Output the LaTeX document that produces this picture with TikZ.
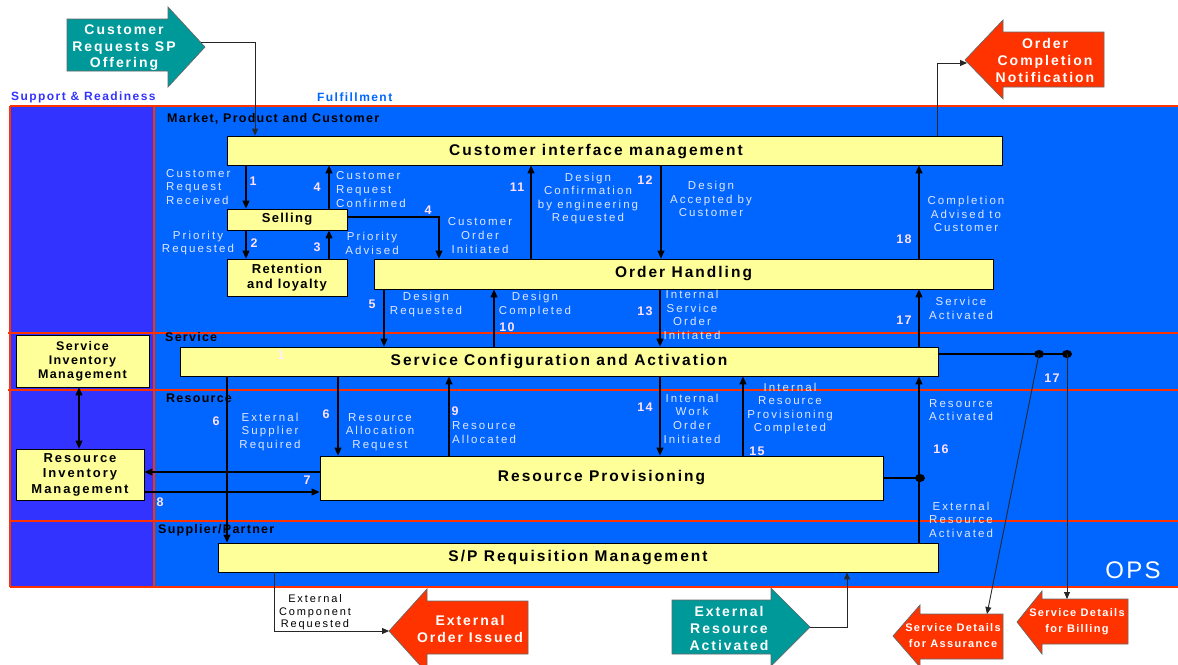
\documentclass[tikz,border=0pt]{standalone}
\usepackage{fontspec}
\setmainfont{Liberation Sans}
\newfontfamily\fLab[LetterSpace=18]{Liberation Sans}
\newfontfamily\fBox[LetterSpace=13]{Liberation Sans}
\newfontfamily\fMid[LetterSpace=10]{Liberation Sans}
\newfontfamily\fSim[LetterSpace=11]{Liberation Sans}
\newfontfamily\fRim[LetterSpace=15]{Liberation Sans}
\newfontfamily\fArr[LetterSpace=14]{Liberation Sans}
\newfontfamily\fSd[LetterSpace=12]{Liberation Sans}
\newfontfamily\fEcr[LetterSpace=17]{Liberation Sans}
\usetikzlibrary{arrows.meta}
\definecolor{leftblue}{RGB}{51,51,255}
\definecolor{mainblue}{RGB}{0,102,255}
\definecolor{redline}{RGB}{255,51,0}
\definecolor{boxyellow}{RGB}{255,255,153}
\definecolor{tealarrow}{RGB}{0,153,153}
\definecolor{redarrow}{RGB}{255,51,0}
\definecolor{labcol}{RGB}{225,230,255}
\definecolor{numcol}{RGB}{255,225,255}
\definecolor{faintcol}{RGB}{255,238,255}
\tikzset{
 box/.style={draw=black, line width=0.8pt, fill=boxyellow, inner sep=0pt, anchor=center},
 boxtxt/.style={font=\fBox\bfseries\fontsize{15.5}{18}\selectfont, inner sep=0pt, text=black},
 smallbox/.style={font=\fMid\bfseries\fontsize{13}{15}\selectfont, align=center},
 simtxt/.style={font=\fSim\bfseries\fontsize{12.5}{14}\selectfont, align=center},
 rimtxt/.style={font=\fRim\bfseries\fontsize{13}{15.5}\selectfont, align=center},
 lab/.style={text=labcol, font=\fLab\fontsize{11.5}{13.6}\selectfont, align=center, inner sep=0pt},
 labl/.style={lab, align=left, anchor=west},
 num/.style={text=numcol, font=\fMid\bfseries\fontsize{12.5}{14}\selectfont, inner sep=0pt},
 zone/.style={font=\fMid\bfseries\fontsize{12.5}{14}\selectfont, inner sep=0pt, anchor=west},
 conn/.style={draw=black, line width=1.1pt, -{Triangle[width=7pt,length=8pt]}},
 biconn/.style={draw=black, line width=1.1pt, {Triangle[width=7pt,length=8pt]}-{Triangle[width=7pt,length=8pt]}},
 plainconn/.style={draw=black, line width=1.1pt},
 thinconn/.style={draw=black!85, line width=0.9pt, -{Triangle[width=6pt,length=7pt]}},
 arrowshape/.style={draw=black!60, line width=0.7pt},
 arrtxt/.style={text=white, font=\fArr\bfseries\fontsize{14}{16.5}\selectfont, align=center, inner sep=0pt},
 sdtxt/.style={text=white, font=\fSd\bfseries\fontsize{11}{16}\selectfont, align=center, inner sep=0pt},
 redln/.style={draw=redline, line width=1.1pt},
}
\begin{document}
\begin{tikzpicture}[x=1pt,y=-1pt]
\clip (0,0) rectangle (1178,664);
\fill[white] (0,0) rectangle (1178,664);
% backgrounds
\fill[leftblue] (10,106) rectangle (154,587);
\fill[mainblue] (154,106) rectangle (1178,587);
\draw[redln] (10,106) -- (1178,106);
\draw[redln] (10,587) -- (1178,587);
\draw[redln] (10,106) -- (10,587);
\draw[redln] (154,106) -- (154,587);
\draw[redln] (8,333) -- (1178,333);
\draw[redln] (8,390) -- (1178,390);
\draw[redln] (10,521) -- (1178,521);

% header labels
\node[zone, text=leftblue, font=\fSd\bfseries\fontsize{12}{14}\selectfont] (sr) at (11,97.5) {Support \& Readiness};
\node[zone, text=mainblue, font=\fSd\bfseries\fontsize{12}{14}\selectfont] (ful) at (317,97.5) {Fulfillment};
\node[zone] (zmpc) at (167,118.5) {Market, Product and Customer};
\node[zone] (zsrv) at (165,337.5) {Service};
\node[zone] (zres) at (166,398.5) {Resource};
\node[zone] (zsp) at (158,530.5) {Supplier/Partner};
\node[text=white, font=\fMid\fontsize{24}{26}\selectfont, inner sep=0pt] (ops) at (1133,570) {OPS};

% boxes
\node[box, minimum width=775, minimum height=29] (cim) at (614.5,150.5) {};
\node[boxtxt] (cimt) at (596,151.5) {Customer interface management};
\node[box, smallbox, minimum width=120, minimum height=21] (selling) at (287,219.5) {Selling};
\node[box, smallbox, minimum width=120, minimum height=37] (retention) at (287,277.5) {Retention\\and loyalty};
\node[box, boxtxt, minimum width=619, minimum height=30] (oh) at (683.5,274) {Order Handling};
\node[box, boxtxt, minimum width=758, minimum height=29] (sca) at (559,361.5) {Service Configuration and Activation};
\node[box, simtxt, minimum width=133, minimum height=52] (sim) at (82.5,361) {Service\\Inventory\\Management};
\node[box, rimtxt, minimum width=128, minimum height=51] (rim) at (80,474.5) {Resource\\Inventory\\Management};
\node[box, boxtxt, minimum width=563, minimum height=44] (rp) at (601.5,478) {Resource Provisioning};
\node[box, boxtxt, minimum width=720, minimum height=29] (sp) at (578,557.5) {S/P Requisition Management};
\node[text=faintcol, font=\fMid\bfseries\fontsize{12.5}{14}\selectfont, inner sep=0pt] (faint1) at (281,355) {1};

% external arrows
\filldraw[arrowshape, fill=tealarrow] (67,19) -- (168,19) -- (168,7) -- (205,47) -- (168,87) -- (168,71) -- (67,71) -- cycle;
\node[arrtxt] (crsp) at (124,48) {Customer\\Requests SP\\Offering};
\coordinate (crspout) at (201,42);
\filldraw[arrowshape, fill=redarrow] (965,60) -- (1003,20) -- (1003,32) -- (1104,32) -- (1104,87) -- (1003,87) -- (1003,99) -- cycle;
\node[arrtxt, font=\fArr\bfseries\fontsize{14}{17}\selectfont] (ocn) at (1045,60) {Order\\Completion\\Notification};
\coordinate (ocnin) at (967,63);
\filldraw[arrowshape, fill=redarrow] (389,631) -- (427,589) -- (427,601) -- (528,601) -- (528,654) -- (427,654) -- (427,673) -- cycle;
\node[arrtxt, font=\fArr\bfseries\fontsize{14}{17}\selectfont] (eoi) at (470,628.5) {External\\Order Issued};
\coordinate (eoiin) at (389,631);
\filldraw[arrowshape, fill=tealarrow] (672,600) -- (771,600) -- (771,588) -- (810,627) -- (771,666) -- (771,654) -- (672,654) -- cycle;
\node[arrtxt, font=\fArr\bfseries\fontsize{14}{17}\selectfont] (era) at (729,628) {External\\Resource\\Activated};
\coordinate (eraout) at (810,627);
\filldraw[arrowshape, fill=redarrow] (893,636) -- (920,605) -- (920,614) -- (1003,614) -- (1003,659) -- (920,659) -- (920,667) -- cycle;
\node[sdtxt] (sda) at (953,636) {Service Details\\for Assurance};
\coordinate (sdain) at (987,614);
\filldraw[arrowshape, fill=redarrow] (1017,622) -- (1042,591) -- (1042,599) -- (1128,599) -- (1128,644) -- (1042,644) -- (1042,654) -- cycle;
\node[sdtxt] (sdb) at (1077,622) {Service Details\\for Billing};
\coordinate (sdbin) at (1067,599);

% connectors
\draw[conn] (cim.south -| 246,0) -- (selling.north -| 246,0);
\draw[conn] (selling.north -| 329,0) -- (cim.south -| 329,0);
\draw[conn] (selling.south -| 246,0) -- (retention.north -| 246,0);
\draw[conn] (retention.north -| 329,0) -- (selling.south -| 329,0);
\draw[conn] (selling.east |- 0,217) -- (439,217) -- (oh.north -| 439,0);
\draw[conn] (oh.north -| 531,0) -- (cim.south -| 531,0);
\draw[conn] (cim.south -| 661,0) -- (oh.north -| 661,0);
\draw[conn] (oh.north -| 919,0) -- (cim.south -| 919,0);
\draw[conn] (oh.south -| 384,0) -- (sca.north -| 384,0);
\draw[conn] (sca.north -| 494,0) -- (oh.south -| 494,0);
\draw[conn] (oh.south -| 660,0) -- (sca.north -| 660,0);
\draw[conn] (sca.north -| 919,0) -- (oh.south -| 919,0);
\draw[conn] (sca.south -| 227,0) -- (sp.north -| 227,0);
\draw[conn] (sca.south -| 338,0) -- (rp.north -| 338,0);
\draw[conn] (rp.north -| 449,0) -- (sca.south -| 449,0);
\draw[conn] (sca.south -| 660,0) -- (rp.north -| 660,0);
\draw[conn] (rp.north -| 743,0) -- (sca.south -| 743,0);
\draw[conn] (sp.north -| 919,0) -- (sca.south -| 919,0);
\coordinate (j16) at (920,478);
\draw[plainconn] (rp.east |- 0,478) -- (j16);
\fill[black] (j16) ellipse [x radius=5, y radius=4];
\draw[conn] (rp.west |- 0,472) -- (rim.east |- 0,472);
\draw[conn] (rim.east |- 0,492) -- (rp.west |- 0,492);
\draw[biconn] (sim.south -| 79,0) -- (rim.north -| 79,0);

\draw[thinconn] (crspout) -- (255,42) -- (cim.north -| 255,0);
\draw[thinconn] (cim.north -| 937,0) -- (937,63) -- (ocnin);
\draw[thinconn] (sp.south -| 274,0) -- (274,631) -- (eoiin);
\draw[thinconn] (eraout) -- (847,627) -- (sp.south -| 847,0);
\coordinate (d1) at (1039,354);
\coordinate (d2) at (1067,354);
\draw[plainconn] (sca.east |- 0,354) -- (d2);
\fill[black] (d1) ellipse [x radius=5, y radius=4];
\fill[black] (d2) ellipse [x radius=5, y radius=4];
\draw[thinconn] (d1) -- (sdain);
\draw[thinconn] (d2) -- (sdbin);

% labels
\node[labl] (l1) at (166,187) {Customer\\Request\\Received};
\node[num] (n1) at (253,181) {1};
\node[num] (n4a) at (317,187) {4};
\node[labl] (l4a) at (336,189.5) {Customer\\Request\\Confirmed};
\node[num] (n4b) at (428,210) {4};
\node[lab] (l4b) at (480,235.5) {Customer\\Order\\Initiated};
\node[lab] (l2) at (198,243) {Priority\\Requested};
\node[num] (n2) at (254,243) {2};
\node[num] (n3) at (317,247) {3};
\node[lab] (l3) at (372,243.5) {Priority\\Advised};
\node[num] (n11) at (517,187) {11};
\node[lab] (l11) at (588,198.5) {Design\\Confirmation\\by engineering\\Requested};
\node[num] (n12) at (645,180) {12};
\node[lab] (l12) at (711,199) {Design\\Accepted by\\Customer};
\node[num] (n18) at (904,239) {18};
\node[lab] (l18) at (966,214) {Completion\\Advised to\\Customer};
\node[num] (n5) at (372,304) {5};
\node[lab] (l5) at (426,304.5) {Design\\Requested};
\node[lab] (l10) at (535,304.5) {Design\\Completed};
\node[num] (n10) at (507,327) {10};
\node[num] (n13) at (645,311) {13};
\node[lab] (l13) at (692,315) {Internal\\Service\\Order\\Initiated};
\node[num] (n17a) at (904,320) {17};
\node[lab] (l17) at (961,308.5) {Service\\Activated};
\node[num] (n6a) at (216,421) {6};
\node[lab] (l6a) at (270,432) {External\\Supplier\\Required};
\node[num] (n6b) at (326,414) {6};
\node[lab] (l6b) at (380,432) {Resource\\Allocation\\Request};
\node[num] (n9) at (455,411) {9};
\node[labl] (l9) at (452,432.5) {Resource\\Allocated};
\node[num] (n14) at (645,407) {14};
\node[lab] (l14) at (692,418.5) {Internal\\Work\\Order\\Initiated};
\node[lab] (l15) at (790,408.5) {Internal\\Resource\\Provisioning\\Completed};
\node[num] (n15) at (757,451) {15};
\node[lab] (l16) at (961,410) {Resource\\Activated};
\node[num] (n16) at (941,449) {16};
\node[lab] (l16b) at (961,519.5) {External\\Resource\\Activated};
\node[num] (n7) at (307,480) {7};
\node[num] (n8) at (160,502) {8};
\node[num] (n17b) at (1052,378) {17};
\node[font=\fEcr\fontsize{11}{12.5}\selectfont, align=center, inner sep=0pt] (ecr) at (315,612.5) {External\\Component\\Requested};
\end{tikzpicture}
\end{document}
